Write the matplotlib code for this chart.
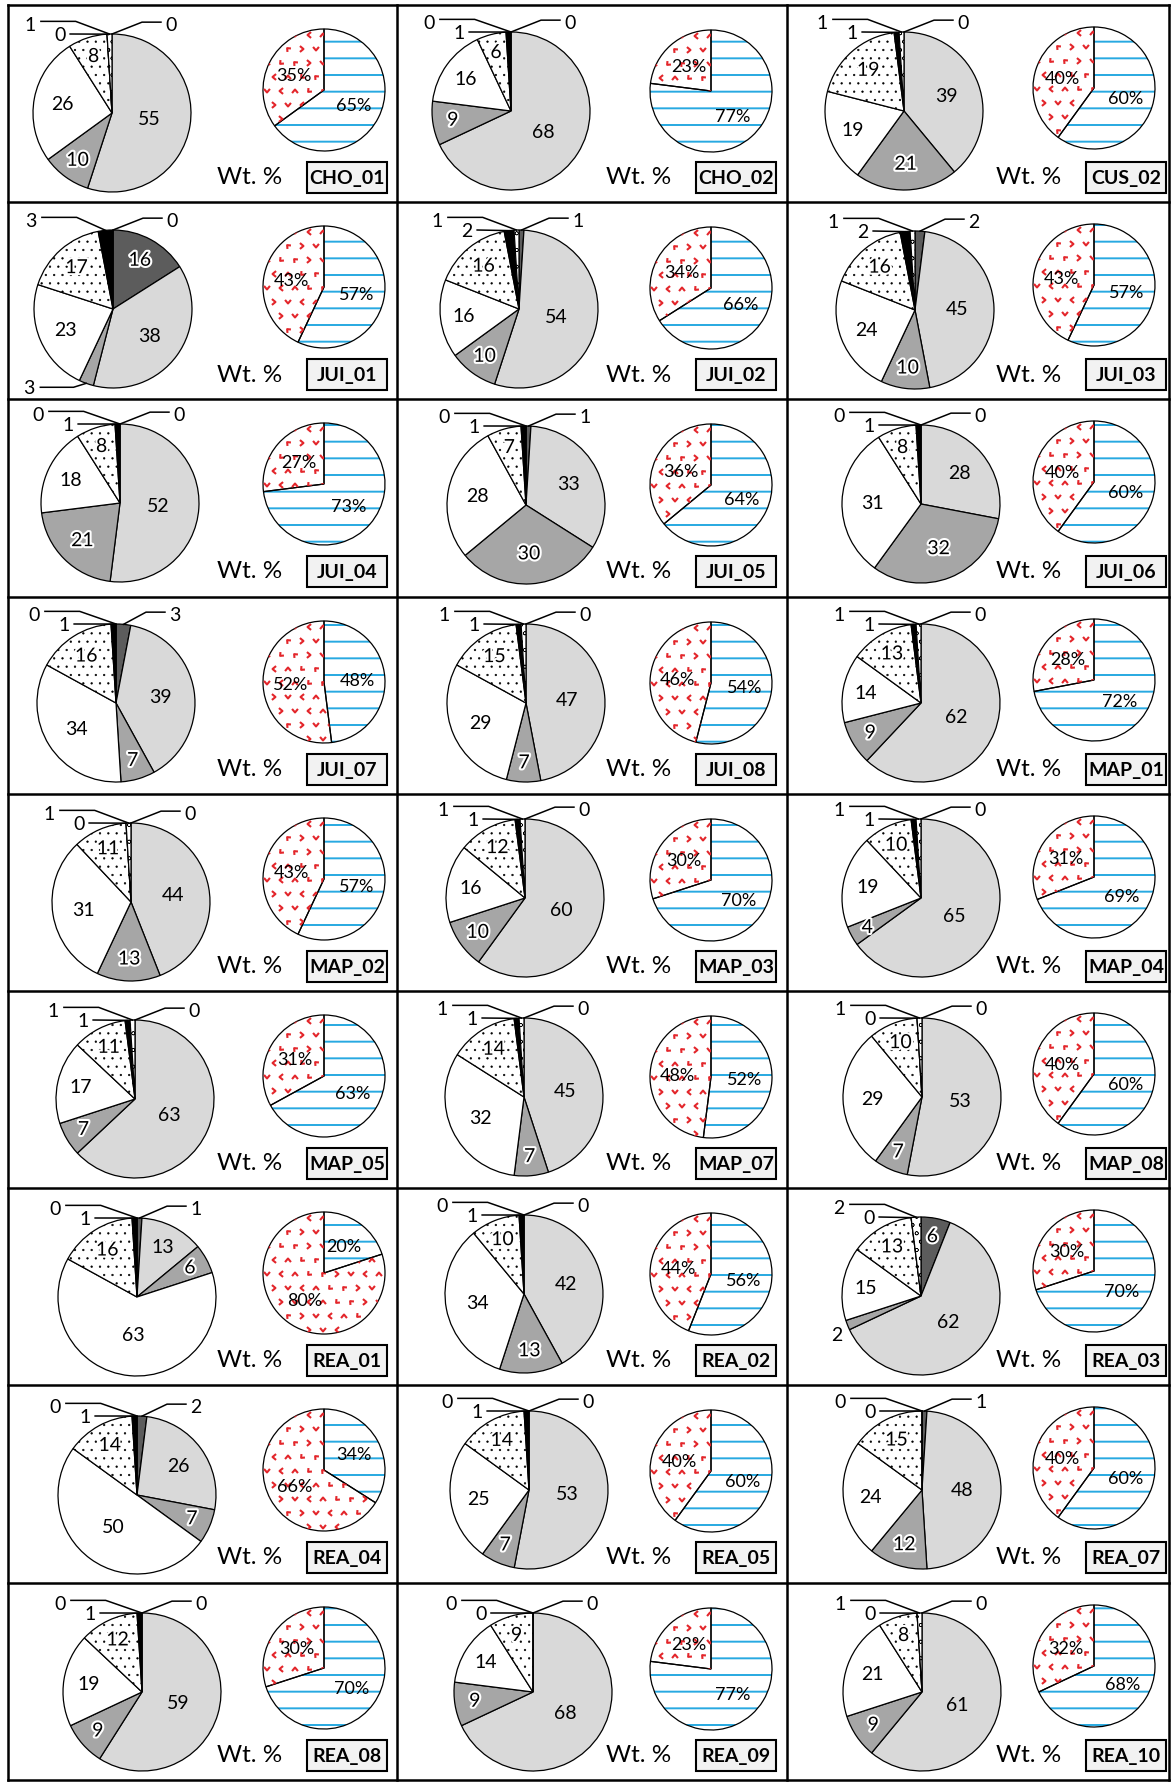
import numpy as np
import matplotlib
matplotlib.use('Agg')
import matplotlib.pyplot as plt
from matplotlib.path import Path
from matplotlib.patches import Rectangle
import matplotlib.patheffects as pe

plt.rcParams['font.family'] = ['Lato', 'DejaVu Sans']
plt.rcParams['hatch.linewidth'] = 1.4

# sample names, row by row
samples = ['CHO_01', 'CHO_02', 'CUS_02',
           'JUI_01', 'JUI_02', 'JUI_03',
           'JUI_04', 'JUI_05', 'JUI_06',
           'JUI_07', 'JUI_08', 'MAP_01',
           'MAP_02', 'MAP_03', 'MAP_04',
           'MAP_05', 'MAP_07', 'MAP_08',
           'REA_01', 'REA_02', 'REA_03',
           'REA_04', 'REA_05', 'REA_07',
           'REA_08', 'REA_09', 'REA_10']

# big pie, Wt. % of each fraction (clockwise from 12 o'clock)
dark    = [0, 0, 0, 16, 1, 2, 0, 1, 0, 3, 0, 0, 0, 0, 0, 0, 0, 0, 1, 0, 6, 2, 0, 1, 0, 0, 0]
light   = [55, 68, 39, 38, 54, 45, 52, 33, 28, 39, 47, 62, 44, 60, 65, 63, 45, 53, 13, 42, 62, 26, 53, 48, 59, 68, 61]
medium  = [10, 9, 21, 3, 10, 10, 21, 30, 32, 7, 7, 9, 13, 10, 4, 7, 7, 7, 6, 13, 2, 7, 7, 12, 9, 9, 9]
white   = [26, 16, 19, 23, 16, 24, 18, 28, 31, 34, 29, 14, 31, 16, 19, 17, 32, 29, 63, 34, 15, 50, 25, 24, 19, 14, 21]
dotted  = [8, 6, 19, 17, 16, 16, 8, 7, 8, 16, 15, 13, 11, 12, 10, 11, 14, 10, 16, 10, 13, 14, 14, 15, 12, 9, 8]
black   = [0, 1, 1, 3, 2, 2, 1, 1, 1, 1, 1, 1, 0, 1, 1, 1, 1, 0, 1, 1, 0, 1, 1, 0, 1, 0, 0]
circles = [1, 0, 1, 0, 1, 1, 0, 0, 0, 0, 1, 1, 1, 1, 1, 1, 1, 1, 0, 0, 2, 0, 0, 0, 0, 0, 1]

# small pie, % (blue lined part first, clockwise from 12 o'clock)
blue_pct = [65, 77, 60, 57, 66, 57, 73, 64, 60, 48, 54, 72, 57, 70, 69, 63, 52, 60, 20, 56, 70, 34, 60, 60, 70, 77, 68]
red_pct  = [35, 23, 40, 43, 34, 43, 27, 36, 40, 52, 46, 28, 43, 30, 31, 31, 48, 40, 80, 44, 30, 66, 40, 40, 30, 23, 32]

# ---- layout (pixels of the 1172x1783 picture, y downwards) ----
W, H = 1172, 1783
col_x = [8, 397, 787, 1169]
row_y = [6, 203, 400, 598, 795, 992, 1189, 1386, 1584, 1781]
big_c = [(104, 108), (114, 106), (117, 106),
         (105, 107), (122, 107), (128, 108),
         (112, 104), (129, 106), (134, 105),
         (108, 106), (129, 106), (134, 106),
         (123, 108), (128, 104), (134, 104),
         (127, 108), (127, 106), (135, 106),
         (129, 109), (127, 106), (134, 108),
         (129, 110), (132, 105), (135, 105),
         (134, 109), (136, 109), (135, 109)]
small_c = [(316, 85), (314, 86), (307, 83)]
R_BIG, R_SMALL = 79, 61
default_slots = {'right': 0, 'upper': 6, 'lower': 5}
special_slots = {'JUI_01': {'right': 6, 'upper': 5}, 'REA_03': {'upper': 6, 'lower': 5}}

colors = ['#5c5c5c', '#d9d9d9', '#a6a6a6', 'white', 'white', 'black', 'white']
hatches = [None, None, None, None, '..', None, 'oo']
BLUE, RED = '#27a9e1', '#e3262b'
halo = [pe.withStroke(linewidth=3, foreground='white')]
FS = 14

fig = plt.figure(figsize=(W / 100, H / 100), dpi=100)
ax = fig.add_axes([0, 0, 1, 1])


def Y(y):
    return H - y


def mid_angle(vals, i):
    frac = (sum(vals[:i]) + vals[i] / 2) / sum(vals)
    return np.deg2rad(90 - 360 * frac)


# chevron markers for the red texture
base = np.array([[-1, -0.7], [0, 0.5], [1, -0.7]])
chevrons = []
for deg in [0, 90, 180, 270, 45, 135]:
    t = np.deg2rad(deg)
    rot = np.array([[np.cos(t), -np.sin(t)], [np.sin(t), np.cos(t)]])
    chevrons.append(Path(base @ rot.T, [Path.MOVETO, Path.LINETO, Path.LINETO]))

for k, name in enumerate(samples):
    col, row = k % 3, k // 3
    x0, y0 = col_x[col], row_y[row]
    cx, cy = x0 + big_c[k][0], Y(y0 + big_c[k][1])
    vals = [dark[k], light[k], medium[k], white[k], dotted[k], black[k], circles[k]]

    wedges, _ = ax.pie(vals, center=(cx, cy), radius=R_BIG, startangle=90, counterclock=False,
                       colors=colors, wedgeprops=dict(edgecolor='black', linewidth=0.9), frame=True)
    for w, h in zip(wedges, hatches):
        if h:
            w.set_hatch(h)
            if hasattr(w, 'set_hatch_linewidth'):
                w.set_hatch_linewidth(0.4)

    # values inside the slices
    for i in range(5):
        v = vals[i]
        if v < 4:
            continue
        a = mid_angle(vals, i)
        d = max(0.48, 0.8 - 0.006 * v)
        ax.text(cx + R_BIG * d * np.cos(a), cy + R_BIG * d * np.sin(a), str(v), fontsize=FS,
                ha='center', va='center', path_effects=halo if i in (0, 2, 4) else None)

    # small values with leader lines
    slots = special_slots.get(name, default_slots)
    for slot, i in slots.items():
        a = mid_angle(vals, i)
        ex, ey = cx + R_BIG * np.cos(a), cy + R_BIG * np.sin(a)
        if slot == 'upper':
            ax.plot([cx - 0.9 * R_BIG, cx - 0.46 * R_BIG, ex], [cy + 1.16 * R_BIG, cy + 1.16 * R_BIG, ey],
                    color='black', lw=1.1)
            ax.text(cx - 1.04 * R_BIG, cy + 1.12 * R_BIG, str(vals[i]), fontsize=FS, ha='center', va='center')
        elif slot == 'lower':
            ax.plot([cx - 0.53 * R_BIG, ex], [cy + 1.0 * R_BIG, ey], color='black', lw=1.1)
            ax.text(cx - 0.66 * R_BIG, cy + 0.99 * R_BIG, str(vals[i]), fontsize=FS, ha='center', va='center')
        else:
            ax.plot([ex, cx + 0.38 * R_BIG, cx + 0.62 * R_BIG], [ey, cy + 1.15 * R_BIG, cy + 1.15 * R_BIG],
                    color='black', lw=1.1)
            ax.text(cx + 0.75 * R_BIG, cy + 1.12 * R_BIG, str(vals[i]), fontsize=FS, ha='center', va='center')
    if vals[2] < 4:
        a = mid_angle(vals, 2)
        ex, ey = cx + R_BIG * np.cos(a), cy + R_BIG * np.sin(a)
        if ex < cx - 0.8 * R_BIG:
            ax.text(cx - 1.06 * R_BIG, ey - 0.12 * R_BIG, str(vals[2]), fontsize=FS, ha='center', va='center')
        else:
            ly = ey - 0.05 * R_BIG
            ax.plot([cx - 0.92 * R_BIG, cx - 0.5 * R_BIG, ex], [ly, ly, ey], color='black', lw=1.1)
            ax.text(cx - 1.06 * R_BIG, ly, str(vals[2]), fontsize=FS, ha='center', va='center')

    # small pie
    sx, sy = x0 + small_c[col][0], Y(y0 + small_c[col][1])
    sv = [blue_pct[k], red_pct[k]]
    sw, _ = ax.pie(sv, center=(sx, sy), radius=R_SMALL, startangle=90, counterclock=False,
                   colors=['white', 'white'], wedgeprops=dict(linewidth=0), frame=True)
    sw[0].set_hatch('-')
    sw[0].set_edgecolor(BLUE)
    sw[0].set_linewidth(0)
    gx, gy = np.meshgrid(np.arange(sx - R_SMALL + 4, sx + R_SMALL, 14.0),
                         np.arange(sy - R_SMALL + 4, sy + R_SMALL, 14.0))
    gx[1::2] += 7
    n = np.arange(gx.size)
    idx = (n * 5 + (n // gx.shape[1]) * 2) % len(chevrons)
    for m, p in enumerate(chevrons):
        sel = idx == m
        sc = ax.scatter(gx.ravel()[sel], gy.ravel()[sel], s=18, marker=p, facecolors='none',
                        edgecolors=RED, linewidths=1.5, zorder=1.5)
        sc.set_clip_path(sw[1])
    ax.pie(sv, center=(sx, sy), radius=R_SMALL, startangle=90, counterclock=False,
           wedgeprops=dict(fill=False, edgecolor='black', linewidth=0.9), frame=True)
    for i, v in enumerate(sv):
        a = mid_angle(sv, i)
        ax.text(sx + 0.55 * R_SMALL * np.cos(a), sy + 0.55 * R_SMALL * np.sin(a), f'{v}%',
                fontsize=13, ha='center', va='center', zorder=4)

    ax.text(x0 + 242, Y(y0 + 172), 'Wt. %', fontsize=17.5, ha='center', va='center')
    ax.add_patch(Rectangle((x0 + 299, Y(y0 + 188)), 80, 31, facecolor='#f2f2f2',
                           edgecolor='black', linewidth=1.5, zorder=3))
    ax.text(x0 + 339, Y(y0 + 172.5), name, fontsize=14, fontweight='bold', ha='center', va='center', zorder=4)

# panel borders
for x in col_x:
    ax.plot([x, x], [Y(row_y[0]), Y(row_y[-1])], color='black', lw=1.8, solid_capstyle='projecting')
for y in row_y:
    ax.plot([col_x[0], col_x[-1]], [Y(y), Y(y)], color='black', lw=1.8, solid_capstyle='projecting')

ax.set_xlim(0, W)
ax.set_ylim(0, H)
ax.axis('off')
fig.savefig('out.png', dpi=100)
